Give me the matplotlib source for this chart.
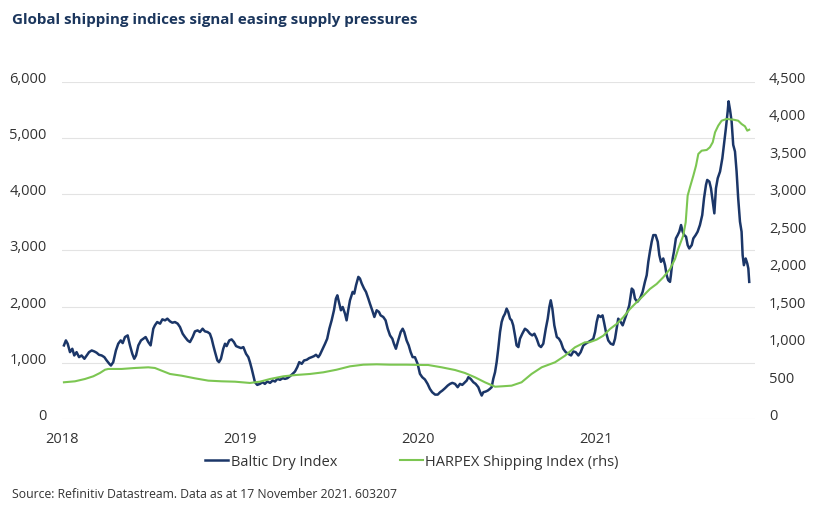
import numpy as np
import matplotlib.pyplot as plt
import matplotlib.transforms as mtransforms

plt.rcParams['font.family'] = ['Open Sans', 'DejaVu Sans']

# Baltic Dry Index (lhs), x = years since start of 2018
bdi_t = [0.011, 0.022, 0.032, 0.045, 0.058, 0.069, 0.082, 0.096, 0.110, 0.126,
         0.139, 0.152, 0.167, 0.182, 0.195, 0.208, 0.223, 0.238, 0.251, 0.266,
         0.275, 0.288, 0.303, 0.316, 0.330, 0.341, 0.354, 0.369, 0.382, 0.395,
         0.406, 0.416, 0.429, 0.444, 0.457, 0.470, 0.485, 0.498, 0.513, 0.522,
         0.535, 0.551, 0.564, 0.579, 0.592, 0.607, 0.620, 0.635, 0.650, 0.663,
         0.678, 0.691, 0.706, 0.719, 0.734, 0.747, 0.762, 0.775, 0.790, 0.803,
         0.818, 0.831, 0.841, 0.850, 0.860, 0.873, 0.882, 0.893, 0.906, 0.916,
         0.925, 0.940, 0.953, 0.966, 0.978, 0.991, 1.006, 1.019, 1.034, 1.047,
         1.056, 1.066, 1.075, 1.084, 1.097, 1.112, 1.127, 1.140, 1.153, 1.169,
         1.184, 1.197, 1.210, 1.225, 1.240, 1.253, 1.266, 1.281, 1.296, 1.309,
         1.322, 1.333, 1.347, 1.360, 1.375, 1.389, 1.403, 1.416, 1.427, 1.440,
         1.449, 1.465, 1.478, 1.490, 1.502, 1.515, 1.528, 1.539, 1.547, 1.556,
         1.567, 1.577, 1.590, 1.599, 1.608, 1.618, 1.633, 1.642, 1.652, 1.665,
         1.674, 1.684, 1.697, 1.708, 1.721, 1.730, 1.743, 1.755, 1.768, 1.781,
         1.790, 1.805, 1.818, 1.830, 1.843, 1.856, 1.865, 1.876, 1.889, 1.903,
         1.914, 1.923, 1.936, 1.948, 1.959, 1.970, 1.983, 1.998, 2.011, 2.024,
         2.039, 2.054, 2.067, 2.080, 2.096, 2.111, 2.124, 2.137, 2.152, 2.167,
         2.180, 2.193, 2.208, 2.223, 2.236, 2.249, 2.264, 2.274, 2.283, 2.296,
         2.311, 2.324, 2.339, 2.348, 2.358, 2.367, 2.380, 2.392, 2.404, 2.414,
         2.423, 2.433, 2.442, 2.451, 2.461, 2.470, 2.479, 2.489, 2.498, 2.507,
         2.517, 2.526, 2.535, 2.545, 2.554, 2.564, 2.573, 2.586, 2.601, 2.614,
         2.629, 2.642, 2.654, 2.667, 2.680, 2.691, 2.704, 2.718, 2.729, 2.738,
         2.746, 2.755, 2.766, 2.780, 2.792, 2.803, 2.816, 2.830, 2.844, 2.860,
         2.873, 2.886, 2.901, 2.914, 2.929, 2.942, 2.957, 2.972, 2.985, 2.995,
         3.004, 3.013, 3.026, 3.037, 3.045, 3.056, 3.069, 3.083, 3.097, 3.107,
         3.116, 3.125, 3.139, 3.150, 3.163, 3.176, 3.187, 3.201, 3.210, 3.219,
         3.232, 3.247, 3.262, 3.275, 3.285, 3.294, 3.303, 3.313, 3.322, 3.335,
         3.347, 3.356, 3.365, 3.378, 3.388, 3.397, 3.406, 3.416, 3.421, 3.431,
         3.438, 3.449, 3.459, 3.468, 3.478, 3.487, 3.496, 3.506, 3.515, 3.524,
         3.538, 3.547, 3.560, 3.571, 3.584, 3.597, 3.607, 3.618, 3.625, 3.637,
         3.646, 3.656, 3.665, 3.674, 3.684, 3.697, 3.710, 3.719, 3.730, 3.740,
         3.745, 3.753, 3.762, 3.771, 3.781, 3.790, 3.799, 3.809, 3.818, 3.824,
         3.831, 3.841, 3.850, 3.856, 3.861]
bdi = [1310, 1399, 1340, 1190, 1250, 1131, 1190, 1101, 1131, 1072,
       1131, 1190, 1220, 1202, 1179, 1143, 1131, 1101, 1042, 982,
       952, 1012, 1220, 1340, 1399, 1351, 1459, 1488, 1310, 1161,
       1072, 1131, 1310, 1399, 1429, 1459, 1369, 1310, 1607, 1667,
       1726, 1697, 1774, 1756, 1786, 1738, 1714, 1726, 1697, 1637,
       1518, 1459, 1399, 1369, 1459, 1560, 1577, 1548, 1607, 1560,
       1548, 1518, 1429, 1310, 1190, 1042, 1012, 1072, 1250, 1340,
       1298, 1399, 1417, 1369, 1298, 1280, 1262, 1280, 1161, 1101,
       1012, 893, 774, 655, 607, 625, 655, 625, 667, 643,
       685, 667, 714, 697, 726, 714, 726, 762, 804, 845,
       923, 1012, 982, 1042, 1054, 1084, 1101, 1119, 1143, 1101,
       1143, 1250, 1340, 1429, 1607, 1756, 1935, 2143, 2202, 2084,
       1935, 1994, 1875, 1756, 1935, 2113, 2262, 2232, 2381, 2530,
       2500, 2411, 2322, 2262, 2143, 2054, 1935, 1816, 1935, 1905,
       1845, 1816, 1756, 1607, 1488, 1429, 1340, 1250, 1399, 1548,
       1607, 1548, 1399, 1310, 1190, 1101, 1100, 982, 804, 744,
       703, 625, 536, 476, 434, 434, 476, 506, 548, 595,
       625, 643, 625, 566, 625, 607, 655, 685, 744, 714,
       655, 625, 566, 488, 417, 476, 488, 506, 536, 566,
       714, 834, 1012, 1250, 1548, 1726, 1816, 1875, 1965, 1905,
       1786, 1756, 1667, 1488, 1310, 1280, 1429, 1518, 1607, 1577,
       1518, 1488, 1518, 1429, 1310, 1280, 1340, 1607, 1786, 1994,
       2113, 1965, 1667, 1459, 1429, 1369, 1250, 1190, 1161, 1131,
       1202, 1190, 1131, 1190, 1310, 1340, 1369, 1399, 1429, 1550,
       1726, 1845, 1816, 1845, 1726, 1548, 1399, 1340, 1322, 1429,
       1607, 1786, 1726, 1667, 1786, 1905, 2024, 2322, 2292, 2143,
       2084, 2143, 2262, 2441, 2560, 2798, 2977, 3155, 3274, 3274,
       3155, 2917, 2798, 2858, 2738, 2560, 2471, 2441, 2560, 2858,
       2977, 3215, 3274, 3334, 3453, 3334, 3274, 3245, 3096, 3036,
       3096, 3215, 3274, 3334, 3453, 3631, 3929, 4167, 4256, 4226,
       4107, 3870, 3661, 4107, 4286, 4405, 4643, 4881, 5179, 5477,
       5656, 5506, 5298, 4881, 4762, 4405, 3929, 3513, 3334, 2917,
       2738, 2858, 2768, 2679, 2441]

# HARPEX Shipping Index (rhs)
harpex_t = [0.011, 0.073, 0.129, 0.176, 0.213, 0.242, 0.260, 0.335, 0.410, 0.485,
            0.522, 0.560, 0.607, 0.672, 0.747, 0.822, 0.897, 0.972, 1.056, 1.112,
            1.169, 1.244, 1.318, 1.393, 1.468, 1.543, 1.618, 1.693, 1.768, 1.843,
            1.936, 2.030, 2.057, 2.133, 2.208, 2.264, 2.320, 2.376, 2.433, 2.470,
            2.526, 2.582, 2.638, 2.695, 2.770, 2.826, 2.882, 2.938, 2.963, 3.004,
            3.041, 3.079, 3.116, 3.153, 3.191, 3.228, 3.266, 3.303, 3.341, 3.378,
            3.416, 3.444, 3.462, 3.490, 3.504, 3.515, 3.528, 3.547, 3.562, 3.575,
            3.594, 3.622, 3.640, 3.656, 3.669, 3.687, 3.706, 3.734, 3.772, 3.799,
            3.818, 3.837, 3.850, 3.861]
harpex = [490, 503, 534, 570, 614, 658, 668, 668, 681, 690,
          681, 645, 601, 578, 543, 512, 503, 498, 481, 498,
          534, 570, 588, 601, 623, 658, 703, 725, 730, 725,
          725, 721, 721, 690, 654, 614, 557, 490, 431, 436,
          445, 490, 601, 690, 757, 845, 957, 1024, 1024, 1060,
          1112, 1202, 1269, 1358, 1469, 1558, 1646, 1736, 1803, 1892,
          2003, 2136, 2270, 2448, 2626, 2982, 3094, 3249, 3382, 3539,
          3583, 3592, 3628, 3695, 3828, 3917, 3983, 4006, 3997, 3983,
          3939, 3908, 3850, 3863]

years = [2018, 2019, 2020, 2021]
left_ticks = [0, 1000, 2000, 3000, 4000, 5000, 6000]
right_ticks = [0, 500, 1000, 1500, 2000, 2500, 3000, 3500, 4000, 4500]

navy = '#1b3668'
green = '#7cc652'
text_col = '#333333'

fig = plt.figure(figsize=(8.22, 5.06), dpi=100)
ax = fig.add_axes([0.0754, 0.170, 0.843, 0.666])
ax2 = ax.twinx()

ax.plot(2018 + np.array(bdi_t), bdi, color=navy, lw=1.8, label='Baltic Dry Index')
ax2.plot(2018 + np.array(harpex_t), harpex, color=green, lw=1.5,
         label='HARPEX Shipping Index (rhs)')

ax.set_xlim(2018, 2021.893)
ax.set_ylim(0, 6000)
ax2.set_ylim(0, 4500)
ax.set_xticks(years)
ax.set_xticklabels([str(y) for y in years])
ax.set_yticks(left_ticks)
ax.set_yticklabels([f'{v:,}' for v in left_ticks])
ax2.set_yticks(right_ticks)
ax2.set_yticklabels([f'{v:,}' for v in right_ticks])

ax.grid(axis='y', color='#e3e3e3', lw=0.8)
ax.set_axisbelow(True)
for a in (ax, ax2):
    for s in a.spines.values():
        s.set_visible(False)
    a.tick_params(length=0, labelsize=10.5, labelcolor=text_col)
ax.tick_params(axis='y', pad=11)
ax2.tick_params(axis='y', pad=10)
ax.tick_params(axis='x', pad=9)

# tick labels sit a little above their grid lines
shift = mtransforms.ScaledTranslation(0, 0.055, fig.dpi_scale_trans)
for lab in ax.get_yticklabels() + ax2.get_yticklabels():
    lab.set_transform(lab.get_transform() + shift)

fig.text(0.0146, 0.960, 'Global shipping indices signal easing supply pressures',
         fontsize=10.9, fontweight='bold', color='#1b365d', va='center')

h1, l1 = ax.get_legend_handles_labels()
h2, l2 = ax2.get_legend_handles_labels()
fig.legend(h1 + h2, l1 + l2, loc='center', bbox_to_anchor=(0.501, 0.085), ncol=2,
           frameon=False, fontsize=10.5, handlelength=1.6, handletextpad=0.15,
           columnspacing=4.3, labelcolor=text_col)

fig.text(0.0146, 0.022, 'Source: Refinitiv Datastream. Data as at 17 November 2021. 603207',
         fontsize=8.8, color=text_col, va='center')

fig.savefig('out.png', dpi=100)
